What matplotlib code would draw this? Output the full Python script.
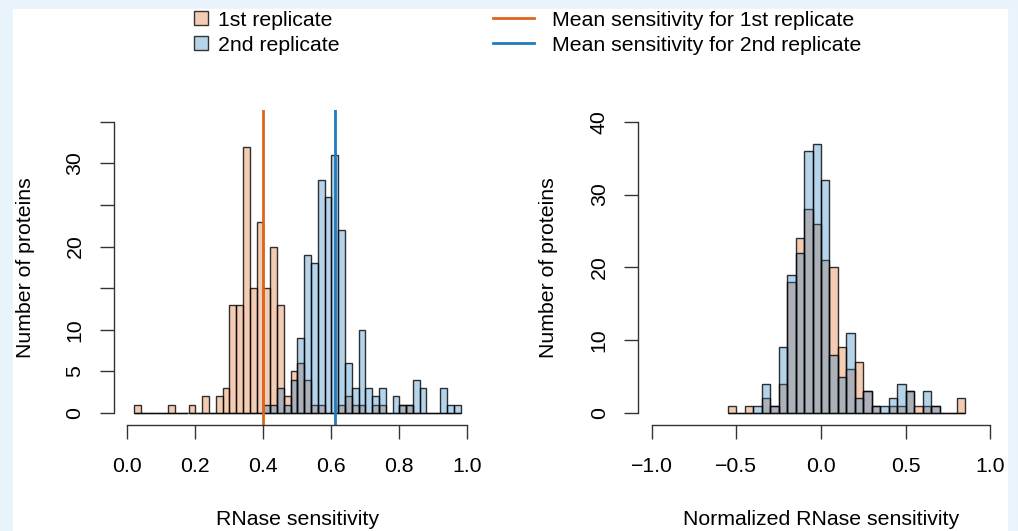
import matplotlib
matplotlib.use("Agg")
import matplotlib.pyplot as plt
from matplotlib.patches import Rectangle
from matplotlib.lines import Line2D
import numpy as np

plt.rcParams['font.family'] = ['Liberation Sans', 'DejaVu Sans']

# --- data ---
raw_start = 0.02
raw_width = 0.02
raw_rep1 = [1, 0, 0, 0, 0, 1, 0, 0, 1, 0, 2, 0, 2, 3, 13, 13, 32, 15, 23, 15,
            20, 13, 2, 5, 6, 4, 1, 1, 0, 0, 1, 2, 1, 1, 0, 1, 1, 0, 0, 1,
            1, 0, 0, 0, 0, 0, 0, 0]
raw_rep2 = [0, 0, 0, 0, 0, 0, 0, 0, 0, 0, 0, 0, 0, 0, 0, 0, 0, 0, 0, 1,
            1, 3, 1, 4, 9, 19, 18, 28, 26, 31, 22, 6, 3, 10, 3, 2, 3, 0, 2, 1,
            1, 4, 3, 0, 0, 3, 1, 1]
mean_rep1 = 0.40
mean_rep2 = 0.61

norm_start = -0.55
norm_width = 0.05
norm_rep1 = [1, 0, 1, 0, 2, 1, 4, 18, 24, 28, 26, 21, 20, 9, 6, 7, 3, 1, 0, 1,
             1, 3, 1, 1, 1, 0, 0, 2]
norm_rep2 = [0, 0, 0, 1, 4, 1, 9, 19, 22, 36, 37, 32, 8, 5, 11, 2, 3, 1, 1, 2,
             4, 3, 0, 3, 1, 0, 0, 0]

legend_labels = ['1st replicate', '2nd replicate',
                 'Mean sensitivity for 1st replicate', 'Mean sensitivity for 2nd replicate']

orange = '#de661c'
blue = '#1f7bbf'
alpha = 0.33
edge = (0, 0, 0, 0.8)
fs = 15.3

fig = plt.figure(figsize=(10.18, 5.31), dpi=100)
fig.patch.set_facecolor('#e8f3fb')
fig.patches.append(Rectangle((13 / 1018, 0), 994 / 1018, 522 / 531,
                             transform=fig.transFigure, color='white', zorder=-5))

ax1 = fig.add_axes([113.7 / 1018, 1 - 424.7 / 531, 367.2 / 1018, 314.7 / 531])
ax2 = fig.add_axes([638 / 1018, 1 - 424.7 / 531, 366 / 1018, 314.7 / 531])
for ax in (ax1, ax2):
    ax.patch.set_alpha(0)


def draw_hist(ax, start, width, c1, c2):
    edges = start + width * np.arange(len(c1))
    ax.bar(edges, c1, width=width, align='edge',
           facecolor=matplotlib.colors.to_rgba(orange, alpha), edgecolor=edge, linewidth=1)
    ax.bar(edges, c2, width=width, align='edge',
           facecolor=matplotlib.colors.to_rgba(blue, alpha), edgecolor=edge, linewidth=1)


def style(ax, xlim, ylim, xticks, yticks, ylabels, xlabel):
    ax.set_xlim(*xlim)
    ax.set_ylim(*ylim)
    for s in ['top', 'right']:
        ax.spines[s].set_visible(False)
    ax.spines['left'].set_bounds(yticks[0], yticks[-1])
    ax.spines['bottom'].set_bounds(xticks[0], xticks[-1])
    for s in ['left', 'bottom']:
        ax.spines[s].set_color('#333333')
        ax.spines[s].set_linewidth(1)
    ax.set_xticks(xticks)
    ax.set_xticklabels([f'{t:.1f}'.replace('-', '\u2212') for t in xticks])
    ax.set_yticks(yticks)
    ax.set_yticklabels(ylabels, rotation=90, va='center')
    ax.tick_params(length=10, width=1, color='#333333', labelsize=fs)
    ax.tick_params(axis='x', pad=13)
    ax.tick_params(axis='y', pad=11)
    ax.set_xlabel(xlabel, fontsize=fs)
    ax.xaxis.set_label_coords(0.5, -0.272)
    ax.set_ylabel('Number of proteins', fontsize=fs)


draw_hist(ax1, raw_start, raw_width, raw_rep1, raw_rep2)
ax1.axvline(mean_rep1, color=orange, lw=2)
ax1.axvline(mean_rep2, color=blue, lw=2)
style(ax1, (-0.04, 1.04), (-1.4, 36.4), [0, 0.2, 0.4, 0.6, 0.8, 1.0],
      [0, 5, 10, 15, 20, 25, 30, 35], ['0', '5', '10', '', '20', '', '30', ''],
      'RNase sensitivity')
ax1.yaxis.set_label_coords(-0.215, 0.5)

draw_hist(ax2, norm_start, norm_width, norm_rep1, norm_rep2)
style(ax2, (-1.08, 1.08), (-1.6, 41.6), [-1.0, -0.5, 0.0, 0.5, 1.0],
      [0, 10, 20, 30, 40], ['0', '10', '20', '30', '40'],
      'Normalized RNase sensitivity')
ax2.yaxis.set_label_coords(-0.219, 0.5)

# legend
fill1 = matplotlib.colors.to_rgba(orange, alpha)
fill2 = matplotlib.colors.to_rgba(blue, alpha)
h_patch = [Line2D([], [], marker='s', markersize=10, linestyle='none',
                  markerfacecolor=f, markeredgecolor='#333333', markeredgewidth=1)
           for f in (fill1, fill2)]
h_line = [Line2D([], [], color=c, lw=2) for c in (orange, blue)]
leg1 = fig.legend(h_patch, legend_labels[:2], loc='upper left',
                  bbox_to_anchor=(182 / 1018, 1 - 2 / 531), frameon=False,
                  fontsize=fs, handlelength=1, handletextpad=0.3, labelspacing=0.3,
                  borderaxespad=0)
leg2 = fig.legend(h_line, legend_labels[2:], loc='upper left',
                  bbox_to_anchor=(484 / 1018, 1 - 2 / 531), frameon=False,
                  fontsize=fs, handlelength=1.93, handletextpad=0.86, labelspacing=0.3,
                  borderaxespad=0)

fig.savefig('out.png', dpi=100, facecolor=fig.get_facecolor())
